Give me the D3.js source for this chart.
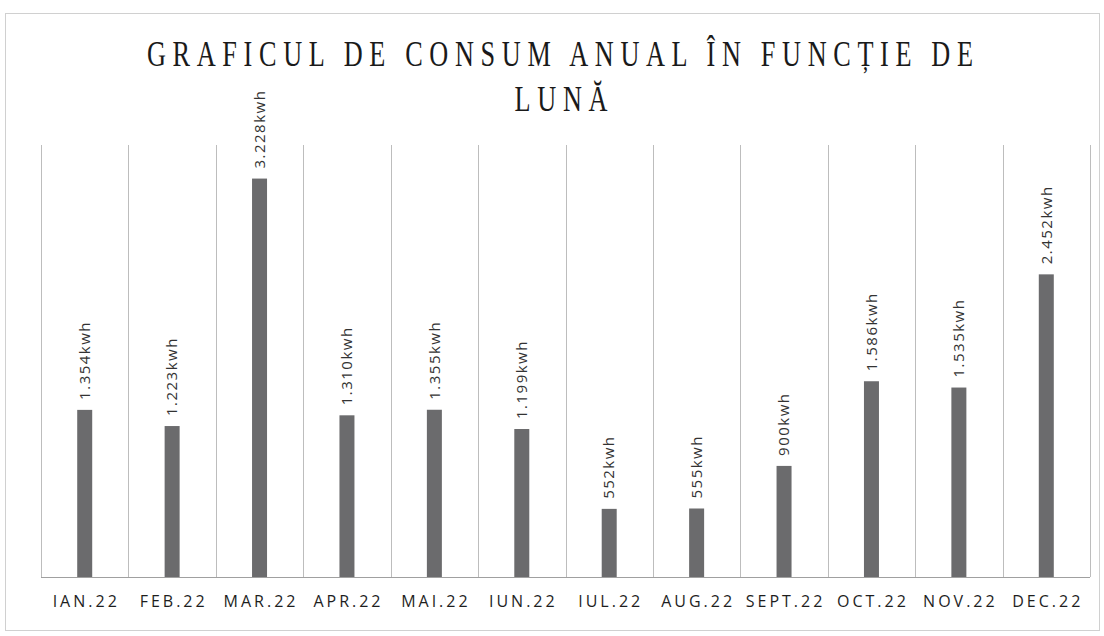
<!DOCTYPE html>
<html>
<head>
<meta charset="utf-8">
<script src="https://cdn.jsdelivr.net/npm/d3@7"></script>
<style>
  body { margin: 0; background: #fff; }
</style>
</head>
<body>
<div id="chart"></div>
<script>
var months = ["IAN.22", "FEB.22", "MAR.22", "APR.22", "MAI.22", "IUN.22",
              "IUL.22", "AUG.22", "SEPT.22", "OCT.22", "NOV.22", "DEC.22"];
var consum = [1354, 1223, 3228, 1310, 1355, 1199, 552, 555, 900, 1586, 1535, 2452];
var titleLines = ["GRAFICUL DE CONSUM ANUAL ÎN FUNCȚIE DE", "LUNĂ"];

function init() {
  var w = 1104, h = 636;
  var left = 41, right = 1090, top = 145, bottom = 577;

  var ro = d3.formatLocale({decimal: ",", thousands: ".", grouping: [3], currency: ["", ""]});
  var fmt = ro.format(",d");

  var svg = d3.select("#chart").append("svg")
      .attr("width", w).attr("height", h);

  // chart border
  svg.append("rect")
      .attr("x", 5.5).attr("y", 13.5).attr("width", 1094).attr("height", 617)
      .attr("fill", "none").attr("stroke", "#d0d0d0").attr("stroke-width", 1);

  // title, narrow serif: scale glyphs horizontally
  var sx = 0.75;
  var title = svg.append("g").attr("transform", "scale(" + sx + ",1)");
  title.selectAll("text.title")
      .data(titleLines)
      .enter().append("text")
      .attr("class", "title")
      .attr("x", function(d, i) { return (i == 0 ? 560 : 561) / sx; })
      .attr("y", function(d, i) { return 66 + i * 45; })
      .attr("text-anchor", "middle")
      .attr("font-family", "Liberation Serif, serif")
      .attr("font-size", 35)
      .attr("fill", "#1a1a1a")
      .attr("textLength", function(d, i) { return i == 0 ? 826 / sx : 93 / sx; })
      .attr("lengthAdjust", "spacing")
      .text(function(d) { return d; });

  var x = d3.scaleBand().domain(months).range([left, right]);
  var y = d3.scaleLinear().domain([0, 3500]).range([bottom, top]);

  // vertical gridlines at band edges
  var edges = months.map(function(m) { return x(m); }).concat([right]);
  svg.selectAll("line.grid")
      .data(edges)
      .enter().append("line")
      .attr("class", "grid")
      .attr("x1", function(d) { return Math.round(d) + 0.5; })
      .attr("x2", function(d) { return Math.round(d) + 0.5; })
      .attr("y1", top).attr("y2", bottom)
      .attr("stroke", "#bdbdbd").attr("stroke-width", 1);

  var bw = 15;
  svg.selectAll("rect.bar")
      .data(consum)
      .enter().append("rect")
      .attr("class", "bar")
      .attr("x", function(d, i) { return x(months[i]) + x.bandwidth() / 2 - bw / 2; })
      .attr("y", function(d) { return y(d); })
      .attr("width", bw)
      .attr("height", function(d) { return y(0) - y(d); })
      .attr("fill", "#6b6b6d");

  svg.selectAll("text.val")
      .data(consum)
      .enter().append("text")
      .attr("class", "val")
      .attr("transform", function(d, i) {
        return "translate(" + (x(months[i]) + x.bandwidth() / 2) + "," + (y(d) - 10) + ") rotate(-90)";
      })
      .attr("dy", "0.35em")
      .attr("font-family", "Open Sans, sans-serif")
      .attr("font-size", 15)
      .attr("letter-spacing", "1.5px")
      .attr("fill", "#333")
      .text(function(d) { return fmt(d) + "kwh"; });

  var xAxis = svg.append("g")
      .attr("transform", "translate(0," + bottom + ")")
      .call(d3.axisBottom(x).tickSize(0).tickPadding(19));
  xAxis.select(".domain").attr("stroke", "#a0a0a0").attr("d", "M" + left + ",0.5H" + right);
  xAxis.selectAll("text")
      .attr("font-family", "Open Sans, sans-serif")
      .attr("font-size", 16)
      .attr("letter-spacing", "3px")
      .attr("dx", "1.5")
      .attr("fill", "#1e1e1e");
}

window.onload = init;
</script>
</body>
</html>
